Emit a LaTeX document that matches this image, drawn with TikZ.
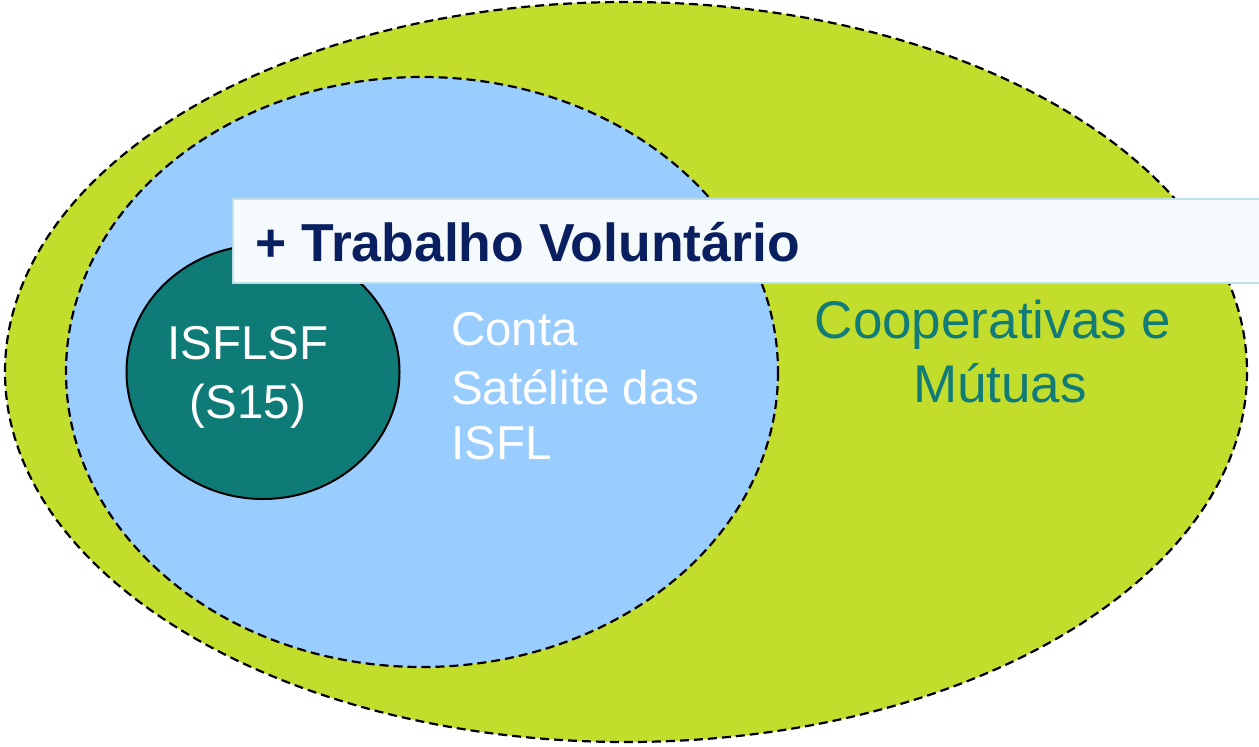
\documentclass[tikz,border=0pt]{standalone}
\usepackage{fontspec}
\setmainfont{Liberation Sans}
\definecolor{lime}{HTML}{C3DD2D}
\definecolor{skyb}{HTML}{99CCFF}
\definecolor{tealc}{HTML}{0E7B76}
\definecolor{navy}{HTML}{0A1F5F}
\definecolor{bannerfill}{HTML}{F5FAFC}
\definecolor{bannerline}{HTML}{BEE0E6}
\definecolor{coop}{HTML}{117B78}
\begin{document}
\begin{tikzpicture}[x=1pt,y=-1pt,
  dashring/.style={draw=black,line width=2.2pt,dash pattern=on 9pt off 5pt},
  whitetext/.style={text=white,inner sep=0pt,font=\fontsize{47.5}{57}\selectfont},
  cooptext/.style={text=coop,inner sep=0pt,font=\fontsize{53}{64}\selectfont}]
\useasboundingbox (0,0) rectangle (1259,747);
\path[fill=lime,dashring] (626,372) ellipse [x radius=621, y radius=370];
\path[fill=skyb,dashring] (422,372) ellipse [x radius=356, y radius=295];
\path[fill=tealc,draw=black,line width=2pt] (263,372) ellipse [x radius=136.5, y radius=127];
\node[draw=bannerline,fill=bannerfill,line width=2pt,minimum width=1040pt,minimum height=84pt,anchor=north west,inner sep=0pt] (banner) at (232,198) {};
\node[anchor=base west,inner sep=0pt,text=navy,font=\fontsize{53.5}{60}\selectfont\bfseries] (vol) at (255,261) {+ Trabalho Voluntário};
\node[whitetext,anchor=base] (isf1) at (248,359) {ISFLSF};
\node[whitetext,anchor=base] (isf2) at (248,418) {(S15)};
\node[whitetext,anchor=base west] (c1) at (451,345) {Conta};
\node[whitetext,anchor=base west] (c2) at (451,404) {Satélite das};
\node[whitetext,anchor=base west] (c3) at (451,459) {ISFL};
\node[cooptext,anchor=base] (m1) at (993,338) {Cooperativas e};
\node[cooptext,anchor=base] (m2) at (1000,402) {Mútuas};
\end{tikzpicture}
\end{document}
